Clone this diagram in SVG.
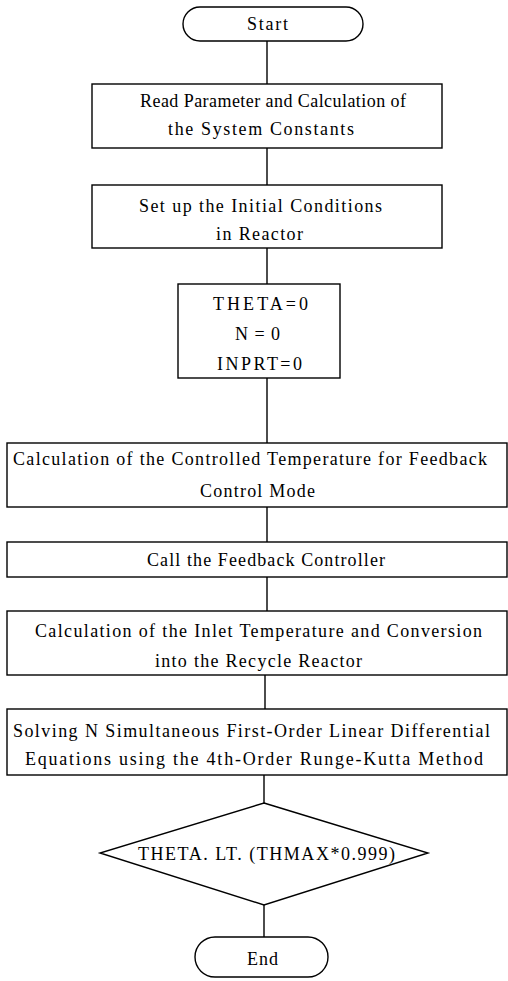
<svg xmlns="http://www.w3.org/2000/svg" width="508" height="981" viewBox="0 0 508 981">
<style>
.s{fill:#fff;stroke:#000;stroke-width:1.4}
.c{fill:none;stroke:#000;stroke-width:1.4}
text{font-family:"Liberation Serif","Times New Roman",serif;font-size:18px;fill:#000}
</style>
<rect width="508" height="981" fill="#fff"/>
<g id="connectors">
<line class="c" x1="267" y1="41" x2="267" y2="84"/>
<line class="c" x1="267" y1="148" x2="267" y2="185"/>
<line class="c" x1="267" y1="248" x2="267" y2="284"/>
<line class="c" x1="267" y1="378" x2="267" y2="443"/>
<line class="c" x1="267" y1="507" x2="267" y2="542"/>
<line class="c" x1="267" y1="577" x2="267" y2="611"/>
<line class="c" x1="265" y1="675" x2="265" y2="709"/>
<line class="c" x1="264" y1="775" x2="264" y2="803"/>
<line class="c" x1="264" y1="905" x2="264" y2="937"/>
</g>
<g id="start">
<rect class="s" x="183" y="7" width="180" height="34" rx="17"/>
<text x="247" y="30" textLength="41" lengthAdjust="spacing">Start</text>
</g>
<g id="read">
<rect class="s" x="92" y="84" width="350" height="64"/>
<text x="140" y="107" textLength="266" lengthAdjust="spacing">Read Parameter and Calculation of</text>
<text x="168" y="135" textLength="186" lengthAdjust="spacing">the System Constants</text>
</g>
<g id="init">
<rect class="s" x="92" y="185" width="350" height="63"/>
<text x="139" y="212" textLength="243" lengthAdjust="spacing">Set up the Initial Conditions</text>
<text x="216" y="240" textLength="87" lengthAdjust="spacing">in Reactor</text>
</g>
<g id="zero">
<rect class="s" x="178" y="284" width="162" height="94"/>
<text x="213" y="310" textLength="95" lengthAdjust="spacing">THETA=0</text>
<text x="235" y="340" textLength="45" lengthAdjust="spacing">N=0</text>
<text x="217" y="370" textLength="85" lengthAdjust="spacing">INPRT=0</text>
</g>
<g id="ctrltemp">
<rect class="s" x="7" y="443" width="500" height="64"/>
<text x="13" y="465" textLength="474" lengthAdjust="spacing">Calculation of the Controlled Temperature for Feedback</text>
<text x="200" y="497" textLength="115" lengthAdjust="spacing">Control Mode</text>
</g>
<g id="call">
<rect class="s" x="7" y="542" width="500" height="35"/>
<text x="147" y="566" textLength="238" lengthAdjust="spacing">Call the Feedback Controller</text>
</g>
<g id="inlet">
<rect class="s" x="7" y="611" width="500" height="64"/>
<text x="35" y="637" textLength="447" lengthAdjust="spacing">Calculation of the Inlet Temperature and Conversion</text>
<text x="155" y="667" textLength="207" lengthAdjust="spacing">into the Recycle Reactor</text>
</g>
<g id="solve">
<rect class="s" x="7" y="709" width="500" height="66"/>
<text x="13" y="737" textLength="477" lengthAdjust="spacing">Solving N Simultaneous First-Order Linear Differential</text>
<text x="25" y="765" textLength="458" lengthAdjust="spacing">Equations using the 4th-Order Runge-Kutta Method</text>
</g>
<g id="decision">
<polygon class="s" points="264,803 428,853 264,905 100,853"/>
<text x="138" y="860" textLength="257" lengthAdjust="spacing">THETA. LT. (THMAX*0.999)</text>
</g>
<g id="end">
<rect class="s" x="195" y="937" width="133" height="40" rx="20"/>
<text x="247" y="965" textLength="31" lengthAdjust="spacing">End</text>
</g>
</svg>
